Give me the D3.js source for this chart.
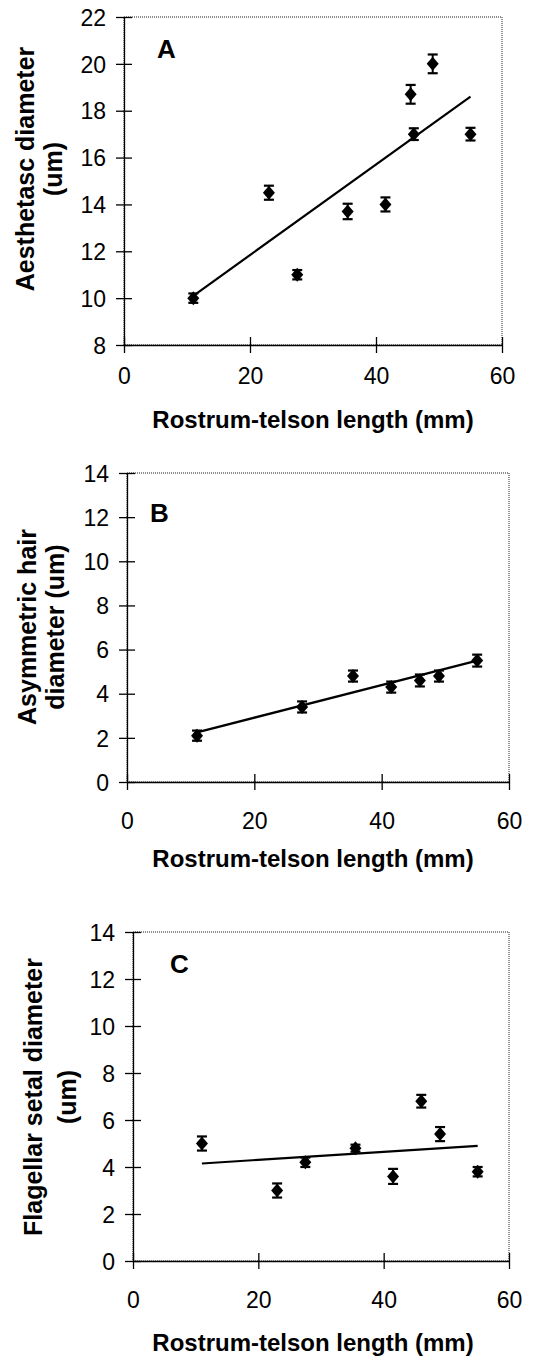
<!DOCTYPE html>
<html>
<head>
<meta charset="utf-8">
<script src="https://cdn.jsdelivr.net/npm/d3@7"></script>
<style>
  body { margin: 0; background: #fff; }
  svg { display: block; }
</style>
</head>
<body>
<div id="container"></div>
<script>
// data
let xTicks = [0, 20, 40, 60];

// A: aesthetasc diameter
let lengthA = [11, 23, 27.5, 35.5, 41.5, 45.5, 46, 49, 55];
let diamA   = [10, 14.5, 11, 13.7, 14, 18.7, 17, 20, 17];
let errA    = [0.2, 0.3, 0.2, 0.33, 0.3, 0.4, 0.25, 0.4, 0.27];
let trendA  = [[11, 10.1], [55, 18.6]];
let yTicksA = [8, 10, 12, 14, 16, 18, 20, 22];

// B: asymmetric hair diameter
let lengthB = [11, 27.5, 35.5, 41.5, 46, 49, 55];
let hairB   = [2.1, 3.4, 4.8, 4.3, 4.6, 4.8, 5.5];
let errB    = [0.23, 0.25, 0.25, 0.25, 0.27, 0.25, 0.27];
let trendB  = [[11, 2.25], [55, 5.5]];
let yTicksB = [0, 2, 4, 6, 8, 10, 12, 14];

// C: flagellar setal diameter
let lengthC = [11, 23, 27.5, 35.5, 41.5, 46, 49, 55];
let setalC  = [5.0, 3.0, 4.2, 4.8, 3.6, 6.8, 5.4, 3.8];
let errC    = [0.3, 0.3, 0.2, 0.15, 0.32, 0.27, 0.3, 0.2];
let trendC  = [[11, 4.15], [55, 4.9]];
let yTicksC = [0, 2, 4, 6, 8, 10, 12, 14];

let w = 533;
let h = 1360;
let font = "'Liberation Sans', Arial, Helvetica, sans-serif";

let viz = d3.select("#container")
  .append("svg")
    .attr("width", w)
    .attr("height", h)
;

// diamond marker a bit wider than d3's own
let diamond = {
  draw: function(context, size) {
    let hw = 6, hh = 7;
    context.moveTo(0, -hh);
    context.lineTo(hw, 0);
    context.lineTo(0, hh);
    context.lineTo(-hw, 0);
    context.closePath();
  }
};

let panels = [
  {
    letter: "A", xs: lengthA, ys: diamA, errs: errA, trend: trendA,
    yDomain: [8, 22], yTicks: yTicksA,
    left: 124, right: 502, top: 17, bottom: 345,
    xLabelY: 384, xTitleY: 428, letterX: 157, letterY: 58,
    yTitle: ["Aesthetasc diameter", "(um)"], yTitleX: [25, 53], yTitleY: 169
  },
  {
    letter: "B", xs: lengthB, ys: hairB, errs: errB, trend: trendB,
    yDomain: [0, 14], yTicks: yTicksB,
    left: 127, right: 509, top: 473, bottom: 782,
    xLabelY: 829, xTitleY: 867, letterX: 150, letterY: 522,
    yTitle: ["Asymmetric hair", "diameter (um)"], yTitleX: [27, 55], yTitleY: 627
  },
  {
    letter: "C", xs: lengthC, ys: setalC, errs: errC, trend: trendC,
    yDomain: [0, 14], yTicks: yTicksC,
    left: 133, right: 509, top: 932, bottom: 1261,
    xLabelY: 1308, xTitleY: 1351, letterX: 170, letterY: 973,
    yTitle: ["Flagellar setal diameter", "(um)"], yTitleX: [33, 67], yTitleY: 1097
  }
];

panels.forEach(drawPanel);

function drawPanel(p) {
  let xScale = d3.scaleLinear().domain([0, 60]).range([p.left, p.right]);
  let yScale = d3.scaleLinear().domain(p.yDomain).range([p.bottom, p.top]);
  let g = viz.append("g");

  // dotted frame (top + right edges show)
  g.append("rect")
    .attr("x", p.left)
    .attr("y", p.top)
    .attr("width", p.right - p.left)
    .attr("height", p.bottom - p.top)
    .attr("fill", "none")
    .attr("stroke", "#666")
    .attr("stroke-width", 1.4)
    .attr("stroke-dasharray", "1,1")
  ;

  // x axis
  let xAxisGroup = g.append("g")
    .attr("transform", "translate(0," + p.bottom + ")")
    .call(d3.axisBottom(xScale).tickValues(xTicks).tickSizeOuter(0).tickSizeInner(8));
  xAxisGroup.selectAll(".tick line").attr("y1", -8).attr("y2", 8);
  xAxisGroup.selectAll(".tick text")
    .attr("y", p.xLabelY - p.bottom)
    .attr("dy", null)
    .attr("font-size", 23)
    .attr("font-family", font)
    .attr("fill", "#000");

  // y axis
  let yAxisGroup = g.append("g")
    .attr("transform", "translate(" + p.left + ",0)")
    .call(d3.axisLeft(yScale).tickValues(p.yTicks).tickSizeOuter(0).tickSizeInner(8));
  yAxisGroup.selectAll(".tick line").attr("x1", -8).attr("x2", 8);
  yAxisGroup.selectAll(".tick text")
    .attr("x", -18)
    .attr("dy", "0.36em")
    .attr("font-size", 23)
    .attr("font-family", font)
    .attr("fill", "#000");

  g.selectAll(".domain").attr("stroke", "#000").attr("stroke-width", 1.3);
  g.selectAll(".tick line").attr("stroke", "#000").attr("stroke-width", 1.3);

  // regression line
  g.append("line")
    .attr("x1", xScale(p.trend[0][0]))
    .attr("y1", yScale(p.trend[0][1]))
    .attr("x2", xScale(p.trend[1][0]))
    .attr("y2", yScale(p.trend[1][1]))
    .attr("stroke", "#000")
    .attr("stroke-width", 2.2)
  ;

  let pts = p.xs.map(function(d, i) {
    return { x: d, y: p.ys[i], e: p.errs[i] };
  });

  let bars = g.selectAll(".err").data(pts).enter().append("g").attr("class", "err");
  bars.append("line")
    .attr("x1", d => xScale(d.x)).attr("x2", d => xScale(d.x))
    .attr("y1", d => yScale(d.y - d.e)).attr("y2", d => yScale(d.y + d.e))
    .attr("stroke", "#000").attr("stroke-width", 2);
  bars.append("line")
    .attr("x1", d => xScale(d.x) - 5).attr("x2", d => xScale(d.x) + 5)
    .attr("y1", d => yScale(d.y + d.e)).attr("y2", d => yScale(d.y + d.e))
    .attr("stroke", "#000").attr("stroke-width", 2.2);
  bars.append("line")
    .attr("x1", d => xScale(d.x) - 5).attr("x2", d => xScale(d.x) + 5)
    .attr("y1", d => yScale(d.y - d.e)).attr("y2", d => yScale(d.y - d.e))
    .attr("stroke", "#000").attr("stroke-width", 2.2);

  g.selectAll(".pt").data(pts).enter().append("path")
    .attr("class", "pt")
    .attr("d", d3.symbol().type(diamond))
    .attr("transform", d => "translate(" + xScale(d.x) + "," + yScale(d.y) + ")")
    .attr("fill", "#000")
  ;

  // panel letter
  g.append("text")
    .text(p.letter)
    .attr("x", p.letterX)
    .attr("y", p.letterY)
    .attr("font-family", font)
    .attr("font-weight", "bold")
    .attr("font-size", 26)
  ;

  // x title
  g.append("text")
    .text("Rostrum-telson length (mm)")
    .attr("x", 313)
    .attr("y", p.xTitleY)
    .attr("text-anchor", "middle")
    .attr("font-family", font)
    .attr("font-weight", "bold")
    .attr("font-size", 24)
  ;

  // y title, two lines rotated
  p.yTitle.forEach(function(line, i) {
    g.append("text")
      .text(line)
      .attr("transform", "translate(" + p.yTitleX[i] + "," + p.yTitleY + ") rotate(-90)")
      .attr("text-anchor", "middle")
      .attr("dy", "0.36em")
      .attr("font-family", font)
      .attr("font-weight", "bold")
      .attr("font-size", 25)
    ;
  });
}
</script>
</body>
</html>
